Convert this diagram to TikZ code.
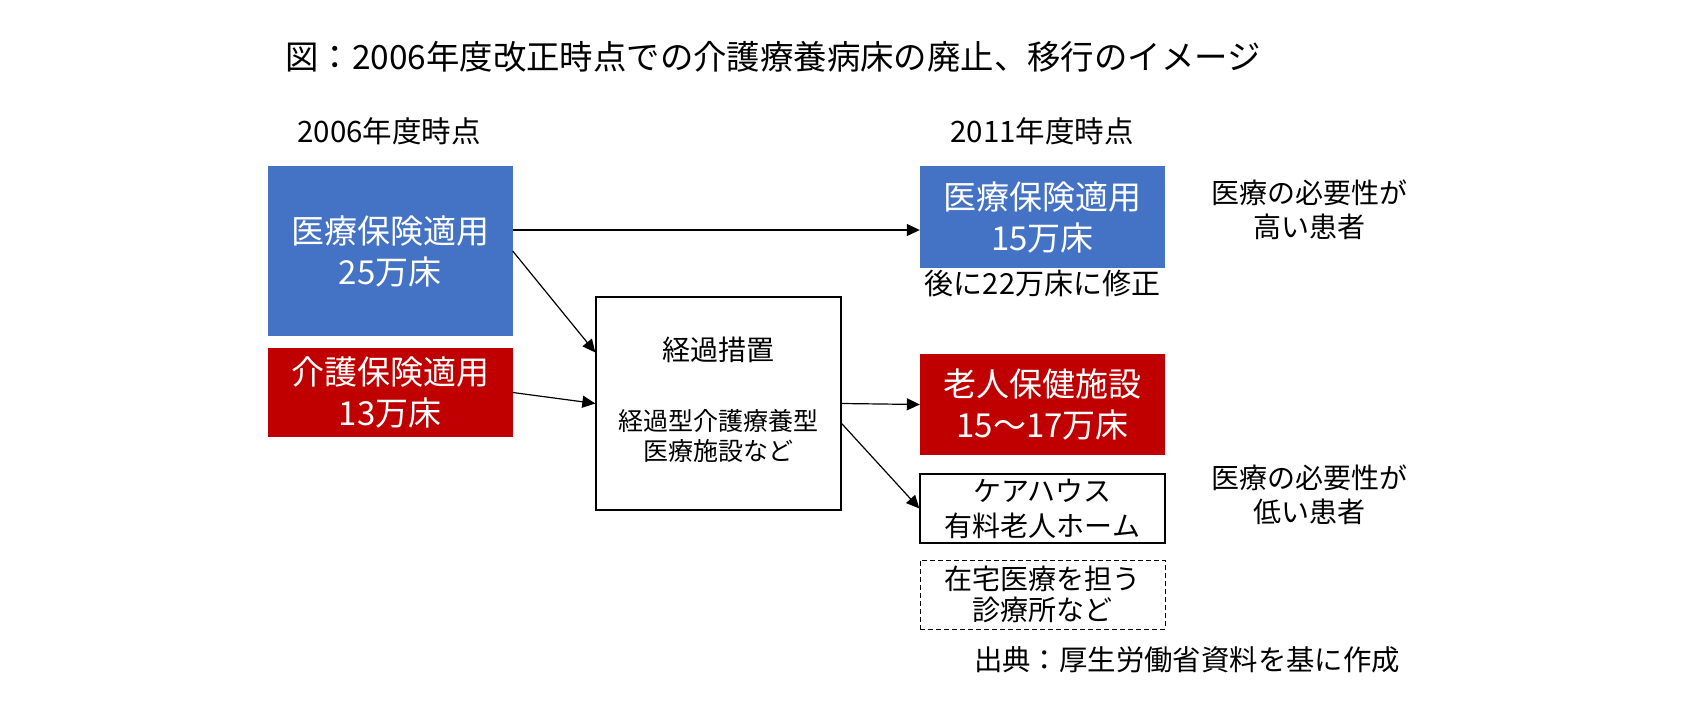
\documentclass[tikz,border=0pt]{standalone}
\usepackage{fontspec}
\setmainfont{Noto Sans CJK JP}
\usetikzlibrary{arrows.meta}
\definecolor{hoken}{HTML}{4472C4}
\definecolor{kaigo}{HTML}{C00000}

\begin{document}
\begin{tikzpicture}[x=1pt, y=-1pt,
	box/.style={minimum width=245pt, inner sep=0pt, align=center, text=white},
	bluebox/.style={box, fill=hoken, font=\fontsize{33}{41}\selectfont},
	redbox/.style={box, fill=kaigo, font=\fontsize{33}{41}\selectfont},
	whitebox/.style={box, draw=black, line width=1.3pt, text=black, font=\fontsize{28}{35}\selectfont},
	note/.style={align=center, inner sep=0pt, font=\fontsize{28}{34}\selectfont},
	flow/.style={line width=1.2pt, -{Triangle[length=13pt,width=12pt]}}]
	\useasboundingbox (0,0) rectangle (1682,715);
	% headings
	\node[note, font=\fontsize{33.4}{38}\selectfont] (title) at (773,57) {図：2006年度改正時点での介護療養病床の廃止、移行のイメージ};
	\node[note, font=\fontsize{29.5}{34}\selectfont] (nen06) at (389,131) {2006年度時点};
	\node[note, font=\fontsize{29.5}{34}\selectfont] (nen11) at (1042,131) {2011年度時点};
	% 2006
	\node[bluebox, minimum height=170pt] (iryo06) at (390,251) {医療保険適用\\25万床};
	\node[redbox, minimum height=89pt] (kaigo06) at (390,392.5) {介護保険適用\\13万床};
	% transition
	\node[whitebox, minimum height=213pt] (keika) at (718.5,403.5) {};
	\node[note] (keikaT) at (718.5,350) {経過措置};
	\node[note, font=\fontsize{25}{30}\selectfont] (keikaS) at (718.5,435.5) {経過型介護療養型\\医療施設など};
	% 2011
	\node[bluebox, minimum height=102pt] (iryo11) at (1042.5,217) {医療保険適用\\15万床};
	\node[note, font=\fontsize{29}{34}\selectfont] (shusei) at (1042.5,284) {後に22万床に修正};
	\node[redbox, minimum height=101pt] (roken) at (1042.5,404.5) {老人保健施設\\15〜17万床};
	\node[whitebox, minimum height=69pt] (care) at (1042.5,508.5) {ケアハウス\\有料老人ホーム};
	\node[whitebox, line width=1pt, dash pattern=on 5pt off 3pt, minimum height=69pt, font=\fontsize{28}{31}\selectfont] (zaitaku) at (1042.5,594.5) {在宅医療を担う\\診療所など};
	\node[note] (takai) at (1309,210) {医療の必要性が\\高い患者};
	\node[note] (hikui) at (1309,494.5) {医療の必要性が\\低い患者};
	\node[note, font=\fontsize{28.4}{34}\selectfont] (shutten) at (1187,660) {出典：厚生労働省資料を基に作成};
	% arrows
	\draw[flow] ([yshift=21pt]iryo06.east) -- ([yshift=-13pt]iryo11.west);
	\draw[flow] (iryo06.east) -- ([yshift=51pt]keika.west);
	\draw[flow] (kaigo06.east) -- (keika.west);
	\draw[flow] (keika.east) -- (roken.west);
	\draw[flow] ([yshift=-20pt]keika.east) -- (care.west);
\end{tikzpicture}
\end{document}
